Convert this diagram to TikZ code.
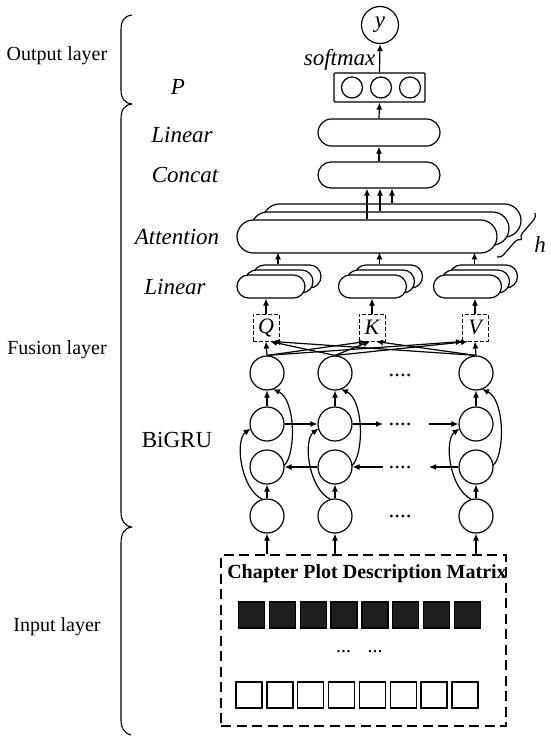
\documentclass[tikz,border=0pt]{standalone}
\usepackage{fontspec}
\setmainfont{Liberation Serif}
\usetikzlibrary{arrows.meta,shapes.misc,calc,decorations.pathreplacing}
\begin{document}
\begin{tikzpicture}[x=1pt,y=-1pt,line width=1.2pt,
  arr/.style={-{Latex[length=7pt,width=6pt]}},
  lab/.style={font=\fontsize{23}{26}\selectfont\itshape,inner sep=0pt},
  layer/.style={font=\fontsize{20}{24}\selectfont,inner sep=0pt},
  cell/.style={circle,draw,minimum size=34pt,inner sep=0pt},
  pill/.style={rounded rectangle,draw,fill=white,inner sep=0pt},
  qkv/.style={draw,line width=1pt,dash pattern=on 4pt off 2pt,minimum width=26pt,minimum height=27pt,inner sep=0pt,font=\fontsize{22}{24}\selectfont\itshape},
  dotsnode/.style={font=\fontsize{23}{26}\selectfont,inner sep=0pt},
  bracket/.style={line width=1.1pt}]
\useasboundingbox (0,0) rectangle (550,740);

% ---- left labels and brackets
\node[layer] (lout) at (57,56) {Output layer};
\node[layer] (lfus) at (57,350) {Fusion layer};
\node[layer] (linp) at (57,627) {Input layer};
\draw[bracket] (132,15) .. controls (124,16) and (121,21) .. (121,30) -- (121,90) .. controls (121,98) and (124,103) .. (132,104);
\draw[bracket] (132,104) .. controls (124,105) and (121,110) .. (121,119) -- (121,512) .. controls (121,520) and (124,526) .. (132,527);
\draw[bracket] (132,527) .. controls (124,528) and (121,534) .. (121,543) -- (121,720) .. controls (121,728) and (124,733) .. (131,735);

\node[lab] (tP) at (178,87) {P};
\node[lab] (tlin1) at (182,135) {Linear};
\node[lab] (tcon) at (185,175) {Concat};
\node[lab] (tatt) at (177,237) {Attention};
\node[lab] (tlin2) at (175,287) {Linear};
\node[font=\fontsize{23}{26}\selectfont,inner sep=0pt] (tgru) at (177,440) {BiGRU};

% ---- output part
\node[circle,draw,minimum size=37pt,inner sep=0pt,font=\fontsize{23}{26}\selectfont\itshape] (yout) at (380,25) {y};
\node[draw,rounded corners=1pt,minimum width=91pt,minimum height=29pt,inner sep=0pt] (pbox) at (379.5,87.5) {};
\foreach \i/\x in {1/352,2/381,3/410}
  \node[circle,draw,minimum size=21pt,inner sep=0pt] (p\i) at (\x,87.5) {};
\node[lab,anchor=east] (tsoft) at (376,60) {softmax};
\draw[arr] (pbox.north) -- (yout.south);

\node[pill,minimum width=122pt,minimum height=27pt] (lin) at (379,132.5) {};
\node[pill,minimum width=122pt,minimum height=26pt] (con) at (379,175) {};
\draw[arr] (lin.north) -- (pbox.south);
\draw[arr] (con.north) -- (lin.south);

% ---- attention heads
\node[pill,minimum width=258pt,minimum height=33pt] (att3) at (392,220.5) {};
\node[pill,minimum width=258pt,minimum height=33pt] (att2) at (380,228.5) {};
\node[pill,minimum width=260pt,minimum height=33pt] (att1) at (367,236.5) {};
\draw[arr] (att1.north) -- (att1.north |- con.south);
\draw[arr] (att2.north) -- (att2.north |- con.south);
\draw[arr] (att3.north) -- (att3.north |- con.south);
\draw[decorate,decoration={brace,amplitude=7pt}] (535,213) -- (497,257);
\node[lab] (th) at (540,245) {h};

% ---- linear stacks
\foreach \n/\cx in {a/271,b/372.5,c/467.5} {
  \node[pill,minimum width=68pt,minimum height=23pt] (l\n3) at (\cx+16,276.5) {};
  \node[pill,minimum width=68pt,minimum height=23pt] (l\n2) at (\cx+8,281.5) {};
  \node[pill,minimum width=68pt,minimum height=23pt] (l\n1) at (\cx,286.5) {};
  \draw[arr] ($(l\n3.north)+(-9,0)$) -- ($(l\n3.north)+(-9,-12)$);
}

% ---- Q K V
\node[qkv] (Q) at (266,327.5) {Q};
\node[qkv] (K) at (372,327.5) {K};
\node[qkv] (V) at (475,327.5) {V};
\draw[arr] (Q.north) -- (Q.north |- la1.south);
\draw[arr] (K.north) -- (K.north |- lb1.south);
\draw[arr] (V.north) -- (V.north |- lc1.south);

% ---- BiGRU cells
\foreach \c/\x in {1/267,2/335,3/476}
  \foreach \r/\y in {1/373,2/424,3/467,4/516}
    \node[cell] (c\c\r) at (\x,\y) {};

\draw[arr] (c11.north) -- (Q.south);
\draw[arr] (c21.north) -- ($(Q.south)+(4,0)$);
\draw[arr] (c31.north) -- ($(Q.south)+(7,0)$);
\draw[arr] (c11.north) -- ($(K.south)+(-6,0)$);
\draw[arr] (c21.north) -- ($(K.south)+(-2,0)$);
\draw[arr] (c31.north) -- ($(K.south)+(4,0)$);
\draw[arr] (c11.north) -- ($(V.south)+(-12,0)$);
\draw[arr] (c21.north) -- ($(V.south)+(-7,0)$);
\draw[arr] (c31.north) -- (V.south);

\foreach \c in {1,2,3} {
  \draw[arr] (c\c4) -- (c\c3);
  \draw[arr] (c\c2) -- (c\c1);
  \draw[arr] ($(c\c4)+(-4.5,-16.5)$) .. controls ($(c\c4)+(-27,-28)$) and ($(c\c2)+(-32,16)$) .. ($(c\c2)+(-16.5,4.5)$);
  \draw[arr] ($(c\c3)+(17,-1.5)$) .. controls ($(c\c3)+(29,-12)$) and ($(c\c1)+(29,27)$) .. ($(c\c1)+(6,16)$);
}
\coordinate (f1) at (383,424);
\coordinate (f2) at (429,424);
\coordinate (b1) at (383,467);
\coordinate (b2) at (429,467);
\draw[arr] (c12) -- (c22);
\draw[arr] (c22) -- (f1);
\draw[arr] (f2) -- (c32);
\draw[arr] (c23) -- (c13);
\draw[arr] (b1) -- (c23);
\draw[arr] (c33) -- (b2);
\foreach \r/\y in {1/375,2/424,3/467,4/516}
  \node[dotsnode] (d\r) at (400,\y) {....};

% ---- input matrix
\node[draw,line width=1.4pt,dash pattern=on 10pt off 5.5pt,minimum width=285pt,minimum height=171pt,inner sep=0pt] (inbox) at (363.5,640.5) {};
\foreach \c in {1,2,3}
  \draw[arr] (c\c4 |- inbox.north) -- (c\c4);
\node[font=\fontsize{20}{24}\selectfont\bfseries,inner sep=0pt] (title) at (367,574) {Chapter Plot Description Matrix};
\foreach \i in {0,...,7} {
  \node[draw,line width=1.3pt,fill=black!88,minimum size=26pt,inner sep=0pt] (bk\i) at ({251.5+30.85*\i},615) {};
  \node[draw,line width=1.3pt,minimum size=26pt,inner sep=0pt] (wh\i) at ({249+30.85*\i},695) {};
}
\node[font=\fontsize{20}{24}\selectfont,inner sep=0pt] (md1) at (343.5,652) {...};
\node[font=\fontsize{20}{24}\selectfont,inner sep=0pt] (md2) at (375,652) {...};
\end{tikzpicture}
\end{document}
